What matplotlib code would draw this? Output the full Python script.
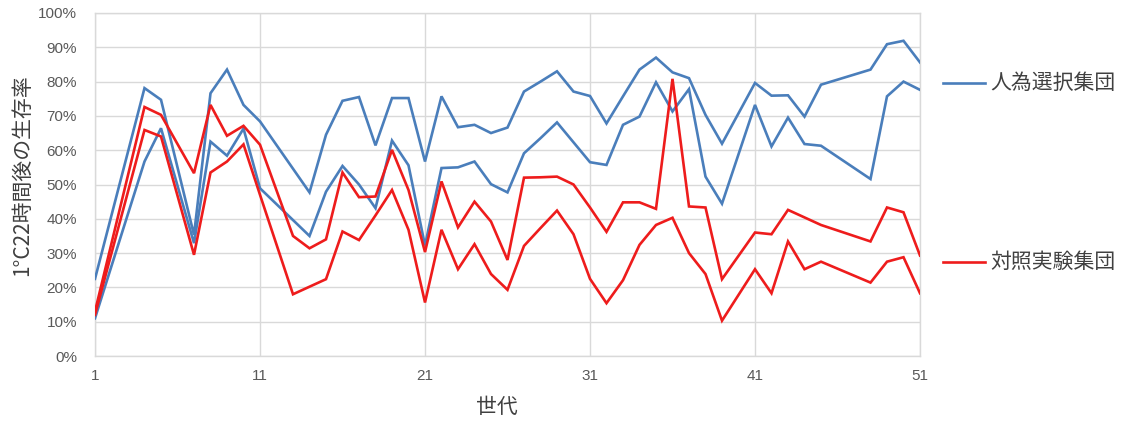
import numpy as np
import matplotlib
matplotlib.use("Agg")
import matplotlib.pyplot as plt
from matplotlib.lines import Line2D
from matplotlib.ticker import FixedLocator, FuncFormatter

plt.rcParams['font.family'] = ['Noto Sans CJK JP', 'DejaVu Sans']

# Generations that were measured
generations = [1, 4, 5, 7, 8, 9, 10, 11, 13, 14, 15, 16, 17, 18, 19, 20, 21, 22,
               23, 24, 25, 26, 27, 28, 29, 30, 31, 32, 33, 34, 35, 36, 37, 38,
               39, 41, 42, 43, 44, 45, 48, 49, 50, 51]

# Survival rate (%) after 22 hours at 1°C — selection group, upper and lower runs
selection_high = [22.5, 78.1, 74.7, 35.3, 76.6, 83.5, 73.2, 68.4, None, 47.7,
                  64.5, 74.4, 75.5, 61.4, 75.2, 75.2, 56.7, 75.7, 66.7, 67.4,
                  65.0, 66.6, 77.1, 80.0, 83.0, 77.1, 75.8, 67.8, 75.7, 83.5,
                  87.0, 82.7, 81.0, 70.3, 61.9, 79.6, 75.9, 76.0, 69.8, 79.1,
                  83.5, 90.9, 91.9, 85.6]
selection_low = [11.0, 56.7, 66.4, 32.9, 62.5, 58.4, 66.3, 48.9, None, 35.0,
                 47.9, 55.4, 50.0, 43.1, 62.8, 55.6, 32.2, 54.8, 55.0, 56.7,
                 50.1, 47.7, 59.1, 63.5, 68.1, 62.3, 56.5, 55.7, 67.4, 69.8,
                 79.8, 71.3, 77.8, 52.3, 44.4, 73.2, 61.1, 69.5, 61.8, 61.3,
                 51.6, 75.7, 80.0, 77.6]

# Control group, upper and lower runs
control_high = [13.0, 72.6, 70.3, 53.3, 73.2, 64.2, 67.1, 61.6, 35.0, 31.4,
                34.0, 53.5, 46.3, 46.5, 60.1, 48.4, 30.3, 50.9, 37.5, 45.0,
                39.2, 28.0, 52.0, 52.1, 52.3, 50.0, 43.3, 36.2, 44.8, 44.8,
                42.9, 80.8, 43.6, 43.3, 22.4, 36.0, 35.5, 42.6, 40.4, 38.2,
                33.4, 43.3, 41.9, 29.3]
control_low = [12.0, 65.9, 64.0, 29.5, 53.5, 56.7, 61.7, 47.0, 18.0, 20.2,
               22.4, 36.3, 33.8, 41.0, 48.4, 36.8, 15.6, 36.8, 25.3, 32.6,
               23.9, 19.3, 32.1, 37.3, 42.4, 35.5, 22.5, 15.4, 22.1, 32.4,
               38.2, 40.3, 30.0, 23.9, 10.3, 25.3, 18.3, 33.4, 25.3, 27.5,
               21.4, 27.5, 28.8, 18.3]

x_ticks = [1, 11, 21, 31, 41, 51]
y_ticks = [0, 10, 20, 30, 40, 50, 60, 70, 80, 90, 100]

series_names = ['人為選択集団', '対照実験集団']
blue = '#4a7ebb'
red = '#ee1c1c'

W, H = 1127, 422
fig = plt.figure(figsize=(W / 100, H / 100), dpi=100)
ax = fig.add_axes([95 / W, 1 - 356 / H, (920 - 95) / W, (356 - 13) / H])


def draw(values, color):
    pts = [(g, v) for g, v in zip(generations, values) if v is not None]
    xs, ys = zip(*pts)
    ax.plot(xs, ys, color=color, lw=1.9, solid_joinstyle='miter', zorder=3)


draw(selection_high, blue)
draw(selection_low, blue)
draw(control_high, red)
draw(control_low, red)

ax.set_xlim(1, 51)
ax.set_ylim(0, 100)
ax.xaxis.set_major_locator(FixedLocator(x_ticks))
ax.yaxis.set_major_locator(FixedLocator(y_ticks))
ax.yaxis.set_major_formatter(FuncFormatter(lambda v, _: f'{int(v)}%'))

grid_c = '#d9d9d9'
ax.grid(True, color=grid_c, lw=1.0, zorder=0)
for s in ax.spines.values():
    s.set_color(grid_c)
    s.set_linewidth(1.0)
ax.tick_params(length=0, colors='#595959', labelsize=11)
for lab in ax.get_xticklabels() + ax.get_yticklabels():
    lab.set_fontfamily(['Liberation Sans', 'DejaVu Sans'])
ax.tick_params(axis='y', pad=13)
ax.tick_params(axis='x', pad=9)

# axis titles
fig.text(497 / W, 1 - 407 / H, '世代', fontsize=15, color='#404040',
         ha='center', va='center')
fig.text(22 / W, 1 - 175 / H, '1°C22時間後の生存率', fontsize=15,
         color='#404040', ha='center', va='center', rotation=90)

# legend entries on the right
for name, color, yy in [(series_names[0], blue, 83), (series_names[1], red, 262)]:
    fig.add_artist(Line2D([943 / W, 985 / W], [1 - yy / H, 1 - yy / H],
                          color=color, lw=1.9, transform=fig.transFigure))
    fig.text(990 / W, 1 - yy / H, name, fontsize=15, color='#404040',
             ha='left', va='center')

fig.savefig('out.png', dpi=100, facecolor='white')
